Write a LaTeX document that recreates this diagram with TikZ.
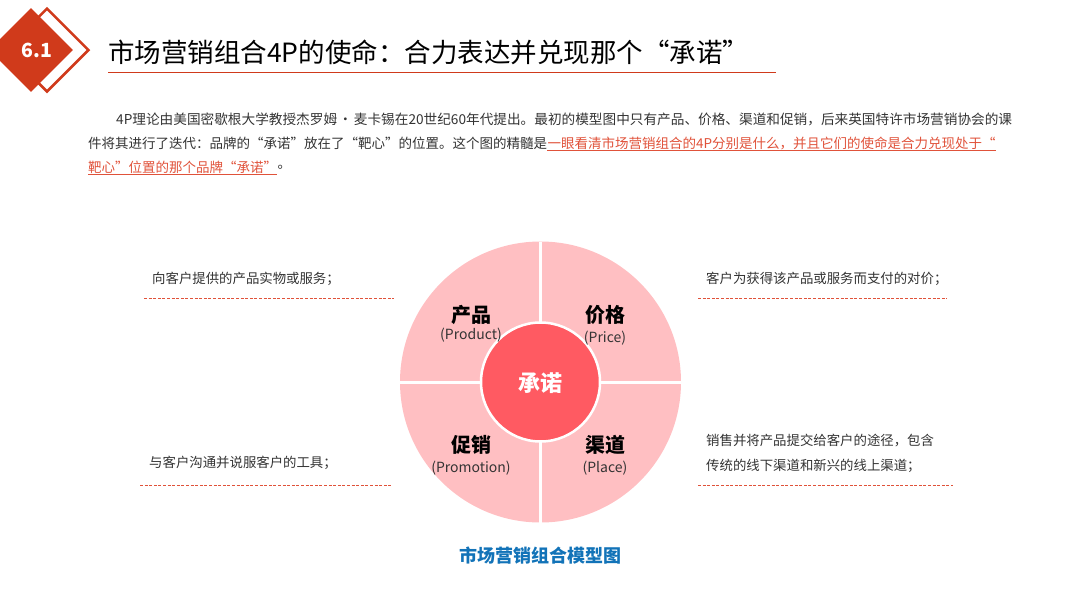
\documentclass[tikz,border=0pt]{standalone}
\usepackage{fontspec}
\setmainfont{Noto Sans CJK SC}
\usetikzlibrary{positioning, shapes.geometric}
\definecolor{brickred}{HTML}{D03A1B}
\definecolor{rulered}{HTML}{E0523A}
\definecolor{diskpink}{HTML}{FFBFC2}
\definecolor{corered}{HTML}{FF5A62}
\definecolor{inkgray}{HTML}{333333}
\definecolor{capblue}{HTML}{1273B8}
\tikzset{
    bodyline/.style={anchor=west, inner sep=0pt, text=inkgray, font=\fontsize{13.5}{16}\selectfont},
    firstline/.style={bodyline, font=\fontsize{13.65}{16}\selectfont},
    redline/.style={bodyline, text=rulered},
    noteline/.style={anchor=west, inner sep=0pt, text=inkgray, font=\fontsize{13.4}{16}\selectfont},
    dashrule/.style={rulered, dash pattern=on 3pt off 1.6pt, line width=0.9pt},
    headlabel/.style={inner sep=0pt, text=black, font=\fontsize{20}{24}\selectfont\bfseries},
    sublabel/.style={inner sep=0pt, text=inkgray, font=\fontsize{14}{16}\selectfont},
    divider/.style={white, line width=3pt},
}
\begin{document}
\begin{tikzpicture}[x=1pt, y=-1pt]
    \useasboundingbox (0,0) rectangle (1080,608);

    % badge and title
    \node (badgeback) [diamond, aspect=1, draw=brickred, line width=2.5pt, fill=white, minimum size=84pt, inner sep=0pt] at (47,50) {};
    \node (badge) [diamond, aspect=1, fill=brickred, minimum size=84pt, inner sep=0pt] at (31,50) {};
    \node (badgetext) [inner sep=0pt, text=white, font=\fontsize{19.5}{24}\selectfont\bfseries] at (37,50) {6.1};
    \node (title) [anchor=west, inner sep=0pt, text=black, font=\fontsize{26.5}{30}\selectfont] at (108,52) {市场营销组合4P的使命：合力表达并兑现那个“承诺”};
    \coordinate (ruleleft) at (108,72.5);
    \coordinate (ruleright) at (776,72.5);
    \draw[brickred, line width=1.2pt] (ruleleft) -- (ruleright);

    % intro text
    \node (introa) [firstline] at (116,119) {4P理论由美国密歇根大学教授杰罗姆\hspace{-1.5pt} · \hspace{-1.5pt}麦卡锡在20世纪60年代提出。最初的模型图中只有产品、价格、渠道和促销，后来英国特许市场营销协会的课};
    \node (introb) [bodyline] at (88,143) {件将其进行了迭代：品牌的“承诺”放在了“靶心”的位置。这个图的精髓是};
    \node (introbred) [redline, right=0pt of introb] {一眼看清市场营销组合的4P分别是什么，并且它们的使命是合力兑现处于“};
    \node (introcred) [redline] at (88,167) {靶心”位置的那个品牌“承诺”};
    \node (introc) [bodyline, right=0pt of introcred] {。};
    \draw[rulered, line width=0.8pt] ([yshift=-1pt]introbred.south west) -- ([yshift=-1pt]introbred.south east);
    \draw[rulered, line width=0.8pt] ([yshift=-1pt]introcred.south west) -- ([yshift=-1pt]introcred.south east);

    % the model disc
    \node (disc) [circle, fill=diskpink, minimum size=281pt, inner sep=0pt, outer sep=0pt] at (540.5,382) {};
    \node (core) [circle, fill=corered, draw=white, line width=2.5pt, minimum size=119pt, inner sep=0pt, outer sep=0pt] at (540.5,382) {};
    \draw[divider] (core.north) -- (disc.north);
    \draw[divider] (core.south) -- (disc.south);
    \draw[divider] (core.west) -- (disc.west);
    \draw[divider] (core.east) -- (disc.east);
    \node (coretext) [inner sep=0pt, text=white, font=\fontsize{22}{26}\selectfont\bfseries] at (540.5,383) {承诺};

    \node (product) [headlabel] at (471,315) {产品};
    \node (productsub) [sublabel, below=3pt of product] {(Product)};
    \node (price) [headlabel] at (605,315) {价格};
    \node (pricesub) [sublabel, below=6pt of price] {(Price)};
    \node (promotion) [headlabel] at (471,445) {促销};
    \node (promotionsub) [sublabel, below=6pt of promotion] {(Promotion)};
    \node (place) [headlabel] at (605,445) {渠道};
    \node (placesub) [sublabel, below=6pt of place] {(Place)};

    % notes on both sides
    \node (noteproduct) [noteline] at (152,279) {向客户提供的产品实物或服务；};
    \node (noteprice) [noteline] at (706,279) {客户为获得该产品或服务而支付的对价；};
    \node (notepromotion) [noteline] at (149,463) {与客户沟通并说服客户的工具；};
    \node (noteplacea) [noteline] at (706,441) {销售并将产品提交给客户的途径，包含};
    \node (noteplaceb) [noteline] at (706,466) {传统的线下渠道和新兴的线上渠道；};
    \coordinate (ruleaa) at (144,298.5);
    \coordinate (ruleab) at (394,298.5);
    \coordinate (ruleba) at (698,298.5);
    \coordinate (rulebb) at (947,298.5);
    \coordinate (ruleca) at (140,485.5);
    \coordinate (rulecb) at (392,485.5);
    \coordinate (ruleda) at (698,485.5);
    \coordinate (ruledb) at (953,485.5);
    \draw[dashrule] (ruleaa) -- (ruleab);
    \draw[dashrule] (ruleba) -- (rulebb);
    \draw[dashrule] (ruleca) -- (rulecb);
    \draw[dashrule] (ruleda) -- (ruledb);

    \node (caption) [inner sep=0pt, text=capblue, font=\fontsize{18}{22}\selectfont\bfseries] at (540.5,556) {市场营销组合模型图};
\end{tikzpicture}
\end{document}
